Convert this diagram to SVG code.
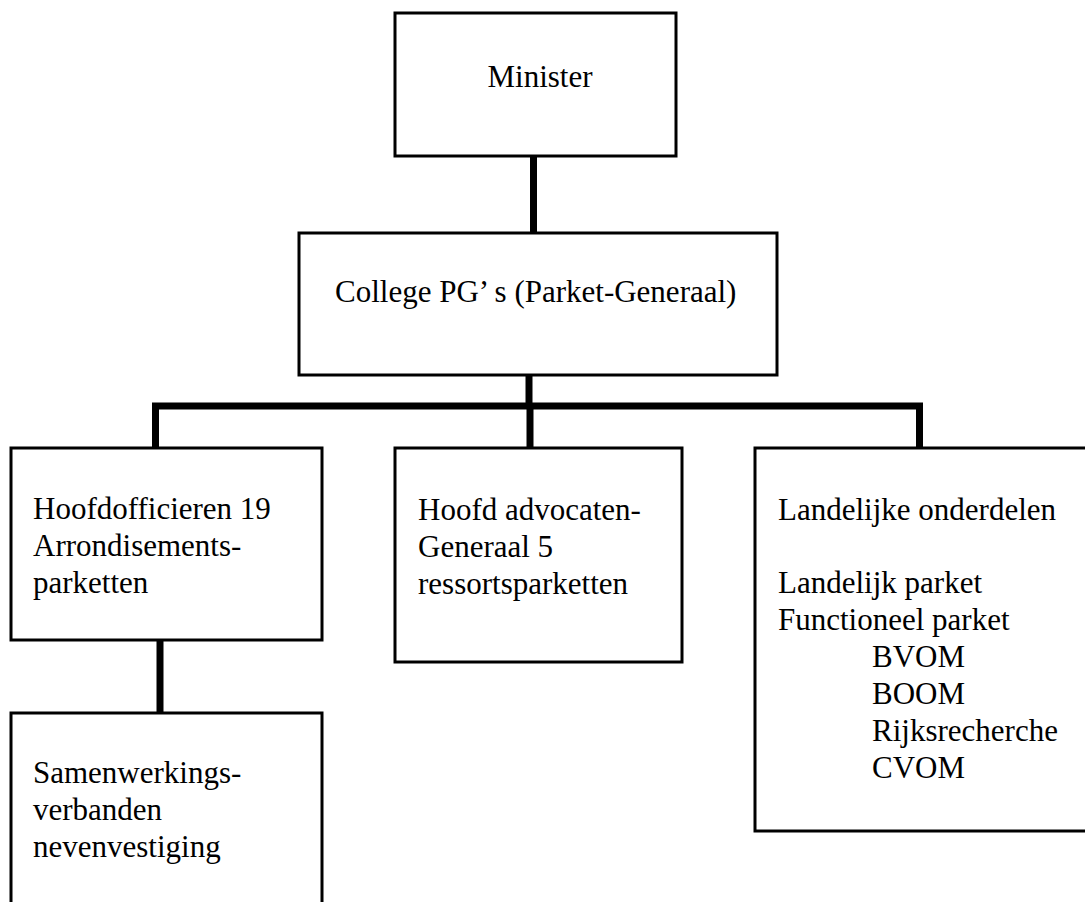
<svg xmlns="http://www.w3.org/2000/svg" width="1085" height="902" viewBox="0 0 1085 902">
<style>
.box{fill:#fff;stroke:#000;stroke-width:3}
.con{stroke:#000;stroke-width:7;fill:none;stroke-linecap:butt}
text{font-family:"Liberation Serif","Times New Roman",serif;font-size:31px;fill:#000}
</style>
<rect x="0" y="0" width="1085" height="902" fill="#fff"/>
<g id="connectors">
<line class="con" x1="533.5" y1="156" x2="533.5" y2="232"/>
<line class="con" x1="529" y1="375" x2="529" y2="406"/>
<polyline class="con" points="155.5,447 155.5,406 919.5,406 919.5,447"/>
<line class="con" x1="530" y1="406" x2="530" y2="447"/>
<line class="con" x1="160" y1="640" x2="160" y2="712"/>
</g>
<g id="minister">
<rect class="box" x="395" y="13" width="281" height="143"/>
<text x="540" y="87" text-anchor="middle">Minister</text>
</g>
<g id="college">
<rect class="box" x="299" y="233" width="478" height="142"/>
<text x="335" y="302">College PG’ s (Parket-Generaal)</text>
</g>
<g id="hoofdofficieren">
<rect class="box" x="11" y="448" width="311" height="192"/>
<text x="33" y="519">Hoofdofficieren 19</text>
<text x="33" y="556">Arrondisements-</text>
<text x="33" y="593">parketten</text>
</g>
<g id="samenwerkingsverbanden">
<rect class="box" x="11" y="713" width="311" height="200"/>
<text x="33" y="783">Samenwerkings-</text>
<text x="33" y="820">verbanden</text>
<text x="33" y="857">nevenvestiging</text>
</g>
<g id="hoofd-advocaten">
<rect class="box" x="395" y="448" width="287" height="214"/>
<text x="418" y="520">Hoofd advocaten-</text>
<text x="418" y="557">Generaal 5</text>
<text x="418" y="594">ressortsparketten</text>
</g>
<g id="landelijke-onderdelen">
<rect class="box" x="755" y="448" width="340" height="383"/>
<text x="778" y="520">Landelijke onderdelen</text>
<text x="778" y="593">Landelijk parket</text>
<text x="778" y="630">Functioneel parket</text>
<text x="872" y="667">BVOM</text>
<text x="872" y="704">BOOM</text>
<text x="872" y="741">Rijksrecherche</text>
<text x="872" y="778">CVOM</text>
</g>
</svg>
